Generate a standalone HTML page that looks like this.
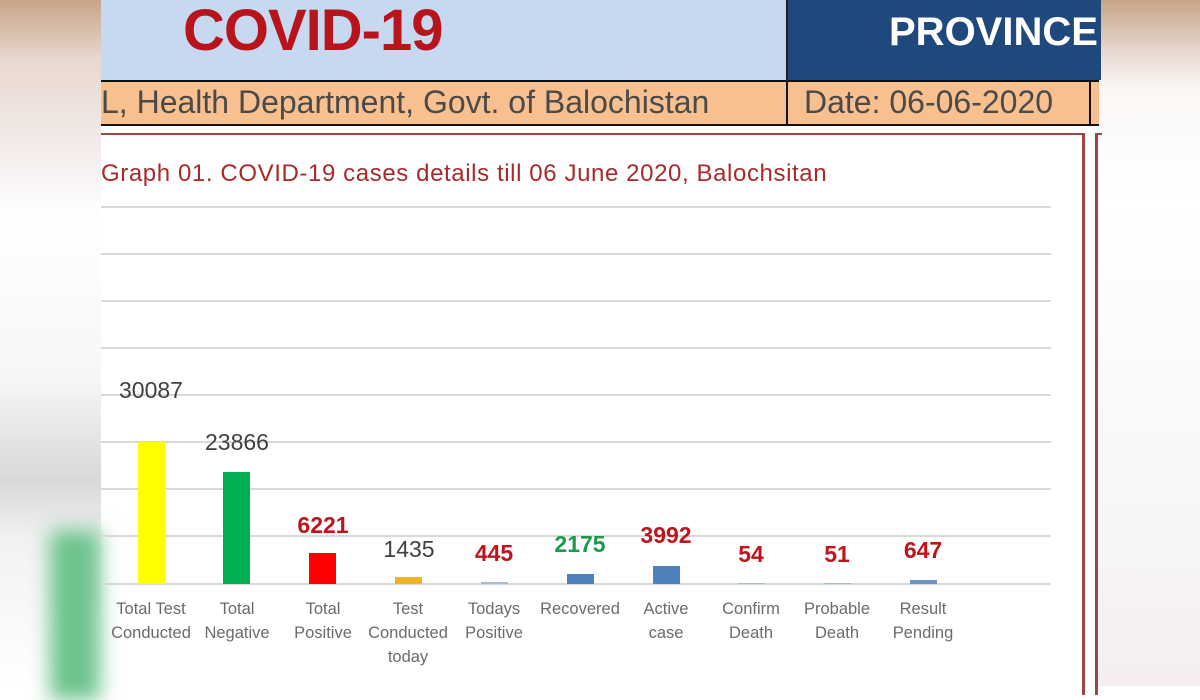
<!DOCTYPE html>
<html><head><meta charset="utf-8"><style>
body{margin:0;width:1200px;height:686px;overflow:hidden;position:relative;font-family:"Liberation Sans",sans-serif;background:#fff}
.a{position:absolute}
.v{position:absolute;font-size:23px;text-align:center;width:120px}
.c{position:absolute;font-size:16.5px;color:#6b6b6b;text-align:center;width:100px;line-height:24px;top:597px}
</style></head><body>
<div class="a" style="left:0;top:0;width:101px;height:686px;background:linear-gradient(#c7a488 0,#e8d8cf 60px,#f3eceb 150px,#ffffff 220px,#f6f6f6 380px,#d8d8d8 480px,#f2f2f2 540px,#fff 686px)"></div>
<div class="a" style="left:50px;top:530px;width:50px;height:170px;background:#6cc38c;filter:blur(10px)"></div>
<div class="a" style="left:1099px;top:0;width:101px;height:686px;background:linear-gradient(#c7a488 0,#e6d6cc 50px,#fbf8f6 90px,#fff 200px,#f7f7f7 500px,#f6eeee 686px)"></div>
<div class="a" style="left:101px;top:0;width:685px;height:80px;background:#c6d9f1"></div>
<div class="a" style="left:183px;top:-3px;font-size:58px;font-weight:bold;color:#b8141c;letter-spacing:-1px">COVID-19</div>
<div class="a" style="left:786px;top:0;width:313px;height:80px;background:#1f497d;border-left:2px solid #222"></div>
<div class="a" style="left:889px;top:10px;font-size:40px;font-weight:bold;color:#fff;white-space:nowrap;width:210px;overflow:hidden">PROVINCE</div>
<div class="a" style="left:101px;top:80px;width:998px;height:42px;background:#f8c08f;border-top:2px solid #111;border-bottom:2px solid #111"></div>
<div class="a" style="left:786px;top:80px;width:2px;height:46px;background:#111"></div>
<div class="a" style="left:1089px;top:80px;width:2px;height:46px;background:#111"></div>
<div class="a" style="left:101px;top:84px;font-size:32px;color:#4a4a4a;white-space:nowrap">L, Health Department, Govt. of Balochistan</div>
<div class="a" style="left:804px;top:84px;font-size:32px;color:#4a4a4a;white-space:nowrap">Date: 06-06-2020</div>
<div class="a" style="left:101px;top:133px;width:981px;height:560px;border-top:2px solid #a04545;border-right:3px solid #a04545"></div>
<div class="a" style="left:1095px;top:133px;width:4px;height:560px;border-top:2px solid #a04545;border-left:3px solid #a04545"></div>
<div class="a" style="left:101px;top:160px;font-size:24px;letter-spacing:0.6px;color:#a82a2a;white-space:nowrap">Graph 01. COVID-19 cases details till 06 June 2020, Balochsitan</div>
<svg class="a" style="left:0;top:0" width="1200" height="686">
<g stroke="#d9d9d9" stroke-width="2">
<line x1="101" x2="1051" y1="207" y2="207"/><line x1="101" x2="1051" y1="254" y2="254"/><line x1="101" x2="1051" y1="301" y2="301"/><line x1="101" x2="1051" y1="348" y2="348"/><line x1="101" x2="1051" y1="395" y2="395"/><line x1="101" x2="1051" y1="442" y2="442"/><line x1="101" x2="1051" y1="489" y2="489"/><line x1="101" x2="1051" y1="536" y2="536"/><line x1="101" x2="1051" y1="584" y2="584"/>
</g>
<rect x="138" y="442" width="27" height="142" fill="#ffff00"/>
<rect x="223" y="472" width="27" height="112" fill="#00b050"/>
<rect x="309" y="553" width="27" height="31" fill="#ff0000"/>
<rect x="395" y="577" width="27" height="7" fill="#f0b323"/>
<rect x="481" y="582" width="27" height="2" fill="#a5bbd8"/>
<rect x="567" y="574" width="27" height="10" fill="#4f81bd"/>
<rect x="653" y="566" width="27" height="18" fill="#4f81bd"/>
<rect x="738" y="583" width="27" height="1" fill="#a5bbd8"/>
<rect x="824" y="583" width="27" height="1" fill="#a5bbd8"/>
<rect x="910" y="580" width="27" height="4" fill="#6f93c4"/>
</svg>
<div class="v" style="left:91px;top:377px;color:#404040">30087</div>
<div class="v" style="left:177px;top:429px;color:#404040">23866</div>
<div class="v" style="left:263px;top:512px;color:#c0141c;font-weight:bold">6221</div>
<div class="v" style="left:349px;top:536px;color:#404040">1435</div>
<div class="v" style="left:434px;top:540px;color:#c0141c;font-weight:bold">445</div>
<div class="v" style="left:520px;top:531px;color:#1a9a4a;font-weight:bold">2175</div>
<div class="v" style="left:606px;top:522px;color:#c0141c;font-weight:bold">3992</div>
<div class="v" style="left:691px;top:541px;color:#c0141c;font-weight:bold">54</div>
<div class="v" style="left:777px;top:541px;color:#c0141c;font-weight:bold">51</div>
<div class="v" style="left:863px;top:537px;color:#c0141c;font-weight:bold">647</div>
<div class="c" style="left:101px;width:100px">Total Test<br>Conducted</div>
<div class="c" style="left:187px">Total<br>Negative</div>
<div class="c" style="left:273px">Total<br>Positive</div>
<div class="c" style="left:358px">Test<br>Conducted<br>today</div>
<div class="c" style="left:444px">Todays<br>Positive</div>
<div class="c" style="left:530px">Recovered</div>
<div class="c" style="left:616px">Active<br>case</div>
<div class="c" style="left:701px">Confirm<br>Death</div>
<div class="c" style="left:787px">Probable<br>Death</div>
<div class="c" style="left:873px">Result<br>Pending</div>
</body></html>
